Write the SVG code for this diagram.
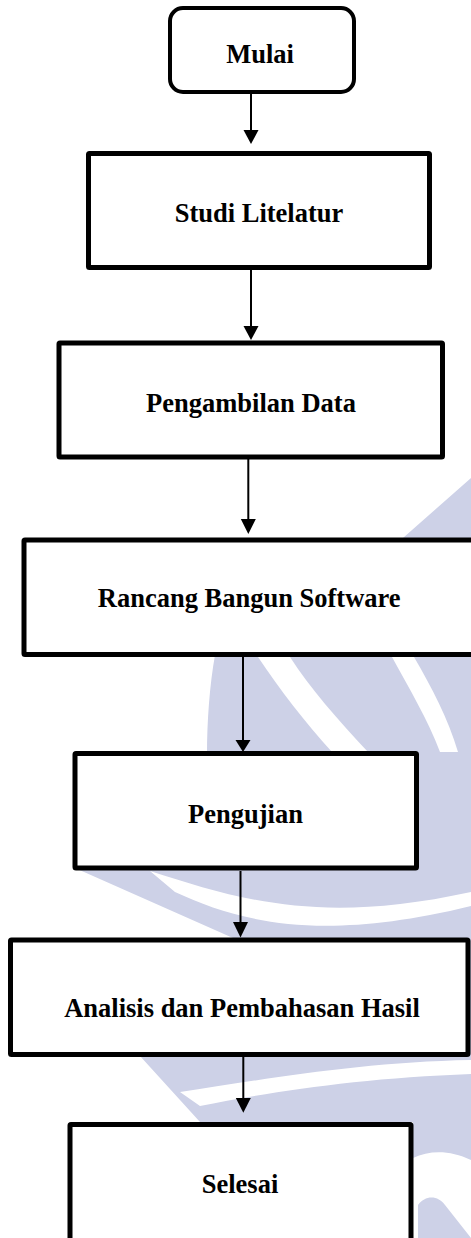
<svg xmlns="http://www.w3.org/2000/svg" width="471" height="1238" viewBox="0 0 471 1238">
  <style>
    .box { fill: #ffffff; stroke: #000000; stroke-width: 5; }
    .start { fill: #ffffff; stroke: #000000; stroke-width: 4; }
    .lbl { font-family: "Liberation Serif", "Times New Roman", serif; font-weight: bold; font-size: 26.5px; fill: #000000; text-anchor: middle; }
    .conn { stroke: #000000; stroke-width: 2; fill: none; }
    .head { fill: #000000; }
    .wm { fill: #cdd1e7; }
    .wmw { fill: #ffffff; }
  </style>
  <rect x="0" y="0" width="471" height="1238" fill="#ffffff"/>
  <g id="watermark">
    <path class="wm" d="M471,478 L395,545 L215,655 C207,700 205,760 209,800 L210,868 L75,868 L233,938 L233,1056 L140,1056 L200,1122 L471,1122 Z"/>
    <path class="wm" d="M413,1122 L471,1122 L471,1160 C450,1150 430,1150 413,1158 Z"/>
    <path class="wm" d="M418,1238 L418,1205 C425,1195 438,1195 445,1205 L471,1238 Z"/>
    <path class="wmw" d="M258,657 C280,690 305,722 332,752 L368,752 C338,720 310,688 290,657 Z"/>
    <path class="wmw" d="M392,657 C410,690 428,720 440,752 L458,752 C448,718 432,688 414,657 Z"/>
    <path class="wmw" d="M150,871 C240,900 320,925 471,892 L471,906 C320,943 240,922 175,892 Z"/>
    <path class="wmw" d="M180,1092 C260,1080 360,1062 471,1060 L471,1074 C360,1078 270,1092 200,1106 Z"/>
  </g>
  <g id="connectors">
    <line class="conn" x1="251" y1="93" x2="251" y2="131"/>
    <polygon class="head" points="243.5,130 258.5,130 251,144"/>
    <line class="conn" x1="251" y1="270" x2="251" y2="327"/>
    <polygon class="head" points="243.5,326 258.5,326 251,340"/>
    <line class="conn" x1="248.3" y1="459" x2="248.3" y2="520"/>
    <polygon class="head" points="240.8,519 255.8,519 248.3,534"/>
    <line class="conn" x1="243" y1="657" x2="243" y2="741"/>
    <polygon class="head" points="235.5,740 250.5,740 243,752"/>
    <line class="conn" x1="240.5" y1="871" x2="240.5" y2="923"/>
    <polygon class="head" points="233,922 248,922 240.5,937.5"/>
    <line class="conn" x1="243.3" y1="1057" x2="243.3" y2="1099"/>
    <polygon class="head" points="235.8,1098 250.8,1098 243.3,1112.7"/>
  </g>
  <g id="node-mulai">
    <rect class="start" x="170" y="8" width="184" height="84" rx="13"/>
    <text class="lbl" x="260" y="63">Mulai</text>
  </g>
  <g id="node-studi">
    <rect class="box" x="88.5" y="153.5" width="341" height="114" rx="1"/>
    <text class="lbl" x="259" y="221.5">Studi Litelatur</text>
  </g>
  <g id="node-pengambilan">
    <rect class="box" x="59" y="343" width="383.5" height="114" rx="1"/>
    <text class="lbl" x="251" y="411.5">Pengambilan Data</text>
  </g>
  <g id="node-rancang">
    <rect class="box" x="24" y="540" width="452" height="114.5" rx="1"/>
    <text class="lbl" x="249.2" y="606.5">Rancang Bangun Software</text>
  </g>
  <g id="node-pengujian">
    <rect class="box" x="75" y="753.5" width="341.5" height="114.5" rx="1"/>
    <text class="lbl" x="245.5" y="823">Pengujian</text>
  </g>
  <g id="node-analisis">
    <rect class="box" x="10.5" y="940" width="457.5" height="114.5" rx="1"/>
    <text class="lbl" x="242" y="1016.5">Analisis dan Pembahasan Hasil</text>
  </g>
  <g id="node-selesai">
    <rect class="box" x="70" y="1124.5" width="341" height="130" rx="1"/>
    <text class="lbl" x="240" y="1192.5">Selesai</text>
  </g>
</svg>
